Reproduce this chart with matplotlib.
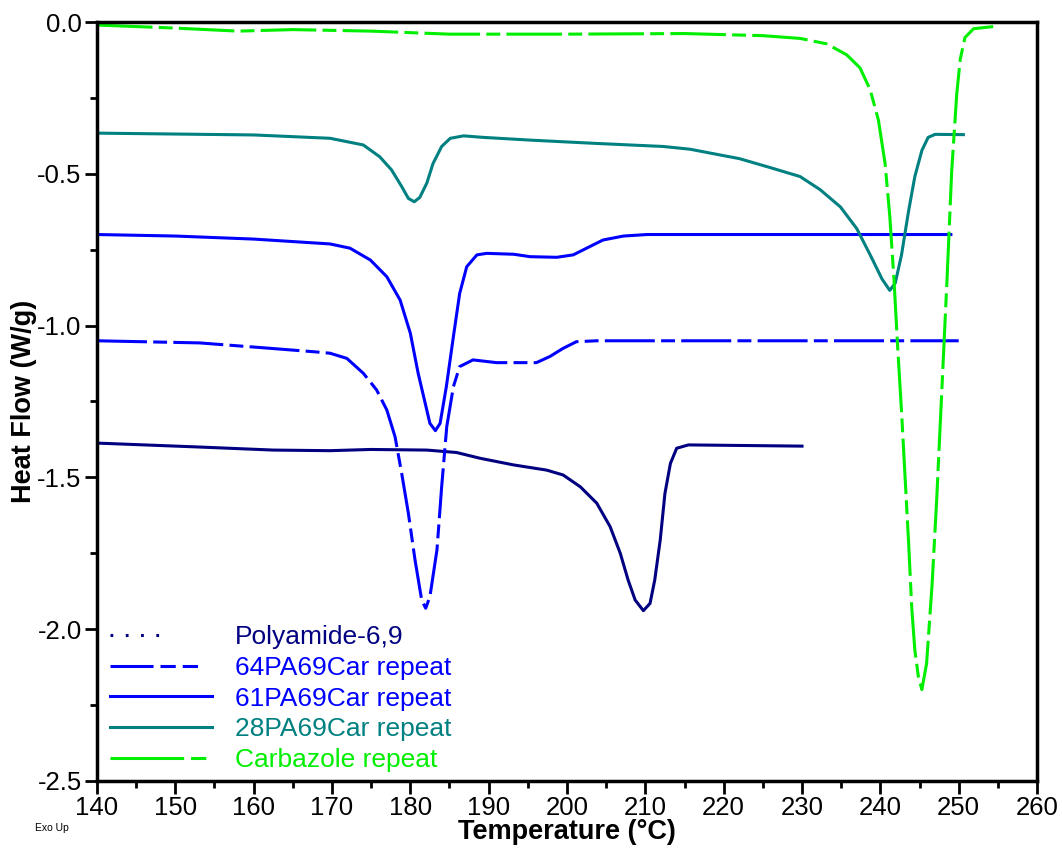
import numpy as np
import matplotlib
matplotlib.use("Agg")
import matplotlib.pyplot as plt
from matplotlib.lines import Line2D
from matplotlib.ticker import MultipleLocator

plt.rcParams['font.family'] = ['Liberation Sans', 'DejaVu Sans']
plt.rcParams['lines.scale_dashes'] = False

# Polyamide-6,9
pa_T = [140, 153.1, 162.5, 169.75, 174.9, 182.1, 185.9, 188.9, 193.2, 197.4, 199.5, 201.7, 203.8,
        205.5, 206.8, 207.8, 208.7, 209.75, 210.6, 211.2, 211.9, 212.5, 213.2, 214.0, 215.5, 230]
pa_hf = [-1.387, -1.40, -1.41, -1.412, -1.408, -1.41, -1.418, -1.437, -1.459, -1.476, -1.492, -1.531, -1.585,
         -1.662, -1.75, -1.838, -1.904, -1.939, -1.915, -1.838, -1.706, -1.553, -1.454, -1.404, -1.393, -1.397]

# 64PA69Car repeat
c64_T = [140, 153.1, 161.7, 168.1, 169.75, 171.9, 174.0, 175.7, 177.0, 178.05, 178.9, 179.75, 180.6,
         181.45, 181.96, 182.5, 183.4, 184.0, 184.65, 185.5, 186.3, 188.0, 191.0, 196.1, 197.8, 199.5,
         201.2, 203.8, 250]
c64_hf = [-1.05, -1.057, -1.074, -1.087, -1.091, -1.108, -1.157, -1.212, -1.278, -1.366, -1.487, -1.618, -1.772,
          -1.904, -1.931, -1.893, -1.739, -1.531, -1.333, -1.201, -1.135, -1.113, -1.122, -1.122, -1.102, -1.075,
          -1.053, -1.05, -1.05]

# 61PA69Car repeat
c61_T = [140, 150, 160, 169.75, 172.3, 174.9, 177.0, 178.7, 180.0, 181.0, 181.9, 182.5, 183.2, 183.8,
         184.6, 185.5, 186.3, 187.2, 188.5, 189.75, 193.2, 195.3, 198.7, 200.8, 202.5, 204.6, 207.2,
         210.2, 249]
c61_hf = [-0.70, -0.705, -0.715, -0.731, -0.745, -0.784, -0.839, -0.916, -1.025, -1.157, -1.256, -1.322,
          -1.346, -1.322, -1.201, -1.036, -0.894, -0.806, -0.767, -0.762, -0.765, -0.773, -0.775, -0.767,
          -0.745, -0.718, -0.705, -0.70, -0.70]

# 28PA69Car repeat
c28_T = [140, 160, 169.75, 174.0, 176.1, 177.6, 178.9, 179.75, 180.5, 181.2, 182.1, 182.9, 184.0,
         185.1, 186.8, 189.3, 195.3, 203.8, 212.3, 215.7, 222, 226, 229.75, 232.3, 234.9, 237.0,
         238.7, 240.2, 241.2, 241.9, 242.7, 243.6, 244.4, 245.3, 246.1, 247.0, 250.6]
c28_hf = [-0.366, -0.372, -0.383, -0.405, -0.444, -0.487, -0.542, -0.581, -0.592, -0.578, -0.531, -0.466,
          -0.41, -0.383, -0.375, -0.38, -0.389, -0.40, -0.41, -0.419, -0.45, -0.48, -0.509, -0.552, -0.609,
          -0.681, -0.767, -0.846, -0.884, -0.86, -0.767, -0.623, -0.509, -0.423, -0.38, -0.37, -0.371]

# Carbazole repeat
cz_T = [140, 150, 158, 165, 175, 185, 200, 215, 225, 229.75, 233.15, 235.7, 237.4, 238.7, 239.75,
        240.6, 241.2, 241.75, 242.2, 242.7, 243.15, 243.6, 244.0, 244.4, 244.85, 245.3, 245.9, 246.6,
        247.2, 247.85, 248.5, 249.1, 249.75, 250.2, 250.8, 251.9, 254.4]
cz_hf = [-0.01, -0.02, -0.03, -0.025, -0.03, -0.04, -0.04, -0.038, -0.045, -0.054, -0.072, -0.108,
         -0.151, -0.223, -0.323, -0.466, -0.638, -0.853, -1.067, -1.282, -1.497, -1.712, -1.927, -2.069,
         -2.156, -2.199, -2.113, -1.854, -1.568, -1.211, -0.853, -0.494, -0.237, -0.122, -0.051, -0.022,
         -0.015]

series = [
    ("Polyamide-6,9", pa_T, pa_hf, "#000080", "-", (0, (2, 9, 2, 9, 2, 9, 2, 60))),
    ("64PA69Car repeat", c64_T, c64_hf, "#0000ff", (0, (36, 4.5, 10, 4.5)), (0, (31, 5, 11, 5, 11, 20))),
    ("61PA69Car repeat", c61_T, c61_hf, "#0000ff", "-", "-"),
    ("28PA69Car repeat", c28_T, c28_hf, "#008080", "-", "-"),
    ("Carbazole repeat", cz_T, cz_hf, "#00ee00", (0, (40, 4.5, 10, 4.5)), (0, (53, 5, 11, 20))),
]

fig = plt.figure(figsize=(10.62, 8.5), dpi=100)
ax = fig.add_axes([0.0913, 0.0812, 0.8852, 0.8929])

handles = []
for name, T, hf, color, ls, leg_ls in series:
    ax.plot(T, hf, color=color, linestyle=ls, linewidth=2.2)
    handles.append(Line2D([], [], color=color, linestyle=leg_ls, linewidth=2.2, label=name))

ax.set_xlim(140, 260)
ax.set_ylim(-2.5, 0.0)
ax.xaxis.set_major_locator(MultipleLocator(10))
ax.xaxis.set_minor_locator(MultipleLocator(5))
ax.yaxis.set_major_locator(MultipleLocator(0.5))
ax.yaxis.set_minor_locator(MultipleLocator(0.25))
ax.yaxis.set_major_formatter(plt.FuncFormatter(lambda v, p: f"{v:.1f}"))
ax.tick_params(which='major', direction='out', length=9, width=2, labelsize=18.5, pad=2)
ax.tick_params(which='minor', direction='out', length=5, width=2)
for sp in ax.spines.values():
    sp.set_linewidth(2.5)

ax.set_xlabel("Temperature (°C)", fontsize=19.5, fontweight='bold', labelpad=-1)
ax.set_ylabel("Heat Flow (W/g)", fontsize=19.5, fontweight='bold', labelpad=0)

ax.legend(handles=handles, loc='lower left', bbox_to_anchor=(0.0138, 0.012), frameon=False,
          fontsize=19, handlelength=3.86, handletextpad=0.87, labelspacing=0.25,
          borderpad=0, borderaxespad=0, labelcolor='linecolor')

fig.text(0.033, 0.022, "Exo Up", fontsize=7.5)

fig.savefig("out.png", dpi=100)
